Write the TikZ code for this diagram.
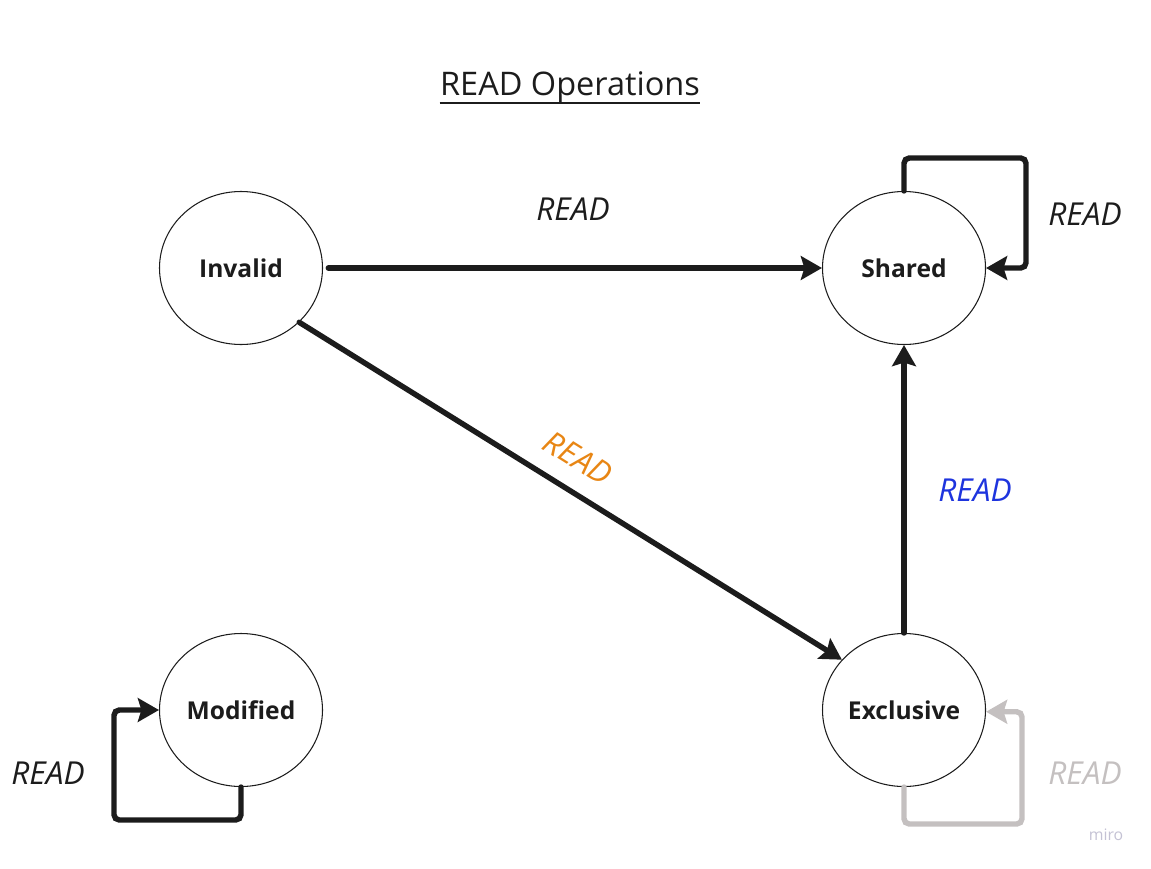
\documentclass[tikz,border=0pt]{standalone}
\usepackage{fontspec}
\setmainfont{Open Sans}
\usepackage{tikz}
\usepackage{xcolor}
\usetikzlibrary{arrows.meta,shapes.geometric}
\definecolor{inkdark}{RGB}{28,28,28}
\definecolor{loopgrey}{RGB}{196,192,192}
\definecolor{readorange}{RGB}{232,134,20}
\definecolor{readblue}{RGB}{30,52,222}
\definecolor{mirogrey}{RGB}{196,194,212}

\begin{document}
\begin{tikzpicture}[x=0.02cm,y=-0.02cm,
  state/.style={draw=inkdark,line width=0.6pt,ellipse,minimum width=163*0.02cm,minimum height=153*0.02cm,inner sep=0pt,font=\fontsize{14}{16}\selectfont\bfseries,text=inkdark},
  trans/.style={draw=inkdark,line width=3.1pt,line cap=round,-{Stealth[length=12pt,width=13.5pt,inset=2pt]}},
  loopedge/.style={trans,rounded corners=3pt},
  lbl/.style={font=\fontsize{18}{20}\selectfont\itshape,text=inkdark}]
\useasboundingbox (0,0) rectangle (1151,868);
\node[font=\fontsize{18.5}{20}\selectfont,text=inkdark,inner xsep=0pt] (title) at (570,87) {READ Operations};
\draw[inkdark,line width=1.1pt] ([yshift=-4.5pt]title.base west) -- ([yshift=-4.5pt]title.base east);
\node[state] (inv) at (241,268) {Invalid};
\node[state] (shd) at (904,268) {Shared};
\node[state] (mod) at (241,710) {Modified};
\node[state] (exc) at (904,710) {Exclusive};
\coordinate (shdloop) at (1026,158);
\coordinate (modloop) at (114,820);
\coordinate (excloop) at (1022,824);
\draw[trans] (inv.east) ++(3pt,0) -- (shd.west);
\draw[trans] (inv.-43) -- (exc.141);
\draw[trans] (exc.north) -- (shd.south);
\draw[loopedge] (shd.north) |- (shdloop) |- (shd.east);
\draw[loopedge] (mod.south) |- (modloop) |- (mod.west);
\draw[loopedge,draw=loopgrey] (exc.south) |- (excloop) |- ([yshift=-1pt]exc.east);
\node[lbl] (l1) at (573,209) {READ};
\node[lbl] (l2) at (1085,214) {READ};
\node[lbl,text=readblue] (l3) at (975,490) {READ};
\node[lbl,text=readorange,rotate=-32,inner sep=0pt] (l4) at (578,458) {READ};
\node[lbl] (l5) at (48,773) {READ};
\node[lbl,text=loopgrey] (l6) at (1085,773) {READ};
\node[font=\fontsize{9}{10}\selectfont,text=mirogrey] (miro) at (1106,835) {miro};
\end{tikzpicture}
\end{document}
